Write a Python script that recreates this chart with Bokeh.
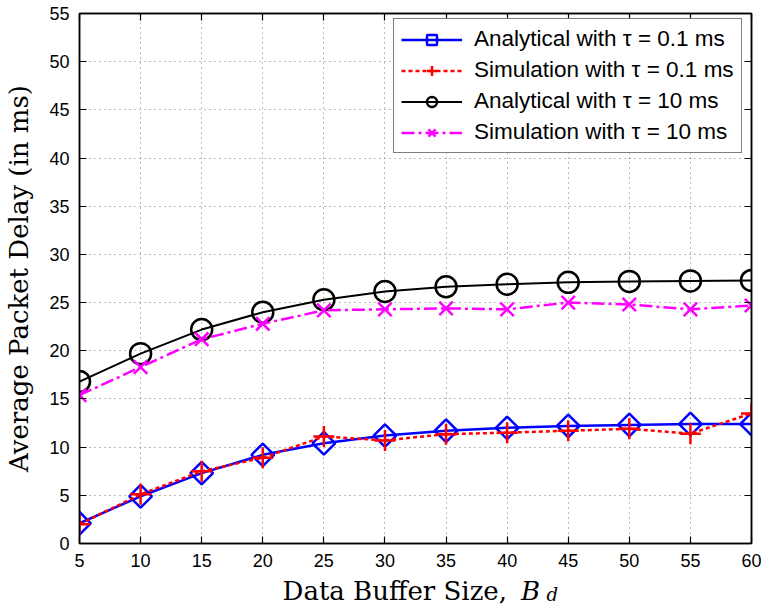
import numpy as np
from bokeh.plotting import figure
from bokeh.layouts import column
from bokeh.models import (Range1d, SingleIntervalTicker, LinearAxis, Legend,
                          LegendItem, CustomJSTickFormatter)
from bokeh.core.properties import value
from bokeh.embed import file_html
from bokeh.resources import INLINE

# ---- data ----
buffer_size = [5, 10, 15, 20, 25, 30, 35, 40, 45, 50, 55, 60]
analytical_01 = [2.1, 4.9, 7.3, 9.2, 10.4, 11.2, 11.7, 12.0, 12.2, 12.3, 12.4, 12.4]
simulation_01 = [2.0, 5.1, 7.5, 8.9, 11.1, 10.7, 11.35, 11.5, 11.7, 11.9, 11.4, 13.5]
analytical_10 = [16.8, 19.7, 22.2, 24.0, 25.3, 26.15, 26.65, 26.9, 27.1, 27.2, 27.25, 27.3]
simulation_10 = [15.4, 18.3, 21.2, 22.8, 24.2, 24.3, 24.4, 24.3, 25.0, 24.8, 24.3, 24.7]

legend_labels = ["Analytical with \u03c4 = 0.1 ms", "Simulation with \u03c4 = 0.1 ms",
                 "Analytical with \u03c4 = 10 ms", "Simulation with \u03c4 = 10 ms"]
x_label_main = "Data Buffer Size,"
x_label_sym = "B"
x_label_sub = "d"
y_label = "Average Packet Delay (in ms)"

SANS = "Liberation Sans"
SERIF = "DejaVu Serif"

p = figure(width=764, height=575, output_backend="svg", toolbar_location=None,
           title=None,
           x_range=Range1d(5, 60), y_range=Range1d(0, 55),
           min_border_left=79, min_border_right=13, min_border_top=13,
           min_border_bottom=32)
p.background_fill_color = "white"
p.border_fill_color = "white"
p.outline_line_color = "black"
p.outline_line_width = 1.5
p.outline_line_alpha = 1.0

ticker = SingleIntervalTicker(interval=5)
for ax in (p.xaxis[0], p.yaxis[0]):
    ax.ticker = ticker
    ax.major_tick_in = 7
    ax.major_tick_out = 0
    ax.minor_tick_line_color = None
    ax.axis_line_width = 1.5
    ax.major_tick_line_width = 1.2
    ax.major_label_text_font = SANS
    ax.major_label_text_font_size = "18px"
    ax.major_label_text_color = "black"
    ax.major_label_standoff = 6

p.yaxis[0].axis_label = y_label
p.yaxis[0].axis_label_text_font = SERIF
p.yaxis[0].axis_label_text_font_size = "26px"
p.yaxis[0].axis_label_text_font_style = "normal"
p.yaxis[0].axis_label_standoff = 12
p.yaxis[0].axis_label_text_color = "black"

blank = CustomJSTickFormatter(code="return ''")
for side in ("right", "above"):
    ax = LinearAxis(ticker=SingleIntervalTicker(interval=5), formatter=blank)
    ax.major_tick_in = 7
    ax.major_tick_out = 0
    ax.minor_tick_line_color = None
    ax.major_label_text_font_size = "1px"
    ax.major_label_standoff = 0
    ax.axis_line_width = 1.5
    ax.major_tick_line_width = 1.2
    p.add_layout(ax, side)

p.grid.grid_line_color = "#777777"
p.grid.grid_line_dash = "1 4"
p.grid.grid_line_width = 1

# ---- series ----
l1 = p.line(buffer_size, analytical_01, line_color="blue", line_width=2.5)
m1 = p.scatter(buffer_size, analytical_01, marker="square", angle=np.pi / 4,
               size=16, fill_color=None, line_color="blue", line_width=2.5)
l2 = p.line(buffer_size, simulation_01, line_color="red", line_width=2.5,
            line_dash="4 3")
m2 = p.scatter(buffer_size, simulation_01, marker="cross", size=21,
               line_color="red", line_width=2.5)
l3 = p.line(buffer_size, analytical_10, line_color="black", line_width=2)
m3 = p.scatter(buffer_size, analytical_10, marker="circle", size=21,
               fill_color=None, line_color="black", line_width=2.5)
l4 = p.line(buffer_size, simulation_10, line_color="magenta", line_width=2.5,
            line_dash="13 4 3 4")
m4 = p.scatter(buffer_size, simulation_10, marker="x", size=19,
               line_color="magenta", line_width=2.5)

items = [LegendItem(label=legend_labels[0], renderers=[l1, m1]),
         LegendItem(label=legend_labels[1], renderers=[l2, m2]),
         LegendItem(label=legend_labels[2], renderers=[l3, m3]),
         LegendItem(label=legend_labels[3], renderers=[l4, m4])]
legend = Legend(items=items, location=(314, 390), margin=0, padding=7,
                spacing=5, glyph_height=25, glyph_width=61, label_height=25,
                label_standoff=12, label_text_font=SANS,
                label_text_font_size="22.5px", label_text_color="black",
                border_line_color="black", border_line_width=1,
                background_fill_color="white", background_fill_alpha=1.0)
p.add_layout(legend, "center")

# ---- x axis title strip (italic B with subscript d) ----
q = figure(width=764, height=31, output_backend="svg", toolbar_location=None,
           title=None,
           x_range=Range1d(0, 764), y_range=Range1d(0, 31),
           min_border_left=0, min_border_right=0, min_border_top=0,
           min_border_bottom=0, x_axis_type=None, y_axis_type=None)
q.outline_line_color = None
q.grid.visible = False
q.background_fill_color = "white"
q.border_fill_color = "white"
q.text(x=[486], y=[16], text=[x_label_main], text_align="right",
       text_baseline="alphabetic", text_font=value(SERIF),
       text_font_size="26px", text_color="black")
q.text(x=[502], y=[16], text=[x_label_sym], text_align="left",
       text_baseline="alphabetic", text_font=value(SERIF),
       text_font_size="26px", text_font_style="italic", text_color="black")
q.text(x=[531], y=[12], text=[x_label_sub], text_align="left",
       text_baseline="alphabetic", text_font=value(SERIF),
       text_font_size="18px", text_font_style="italic", text_color="black")

layout = column(p, q, spacing=0)
open("out.html", "w").write(file_html(layout, INLINE))
